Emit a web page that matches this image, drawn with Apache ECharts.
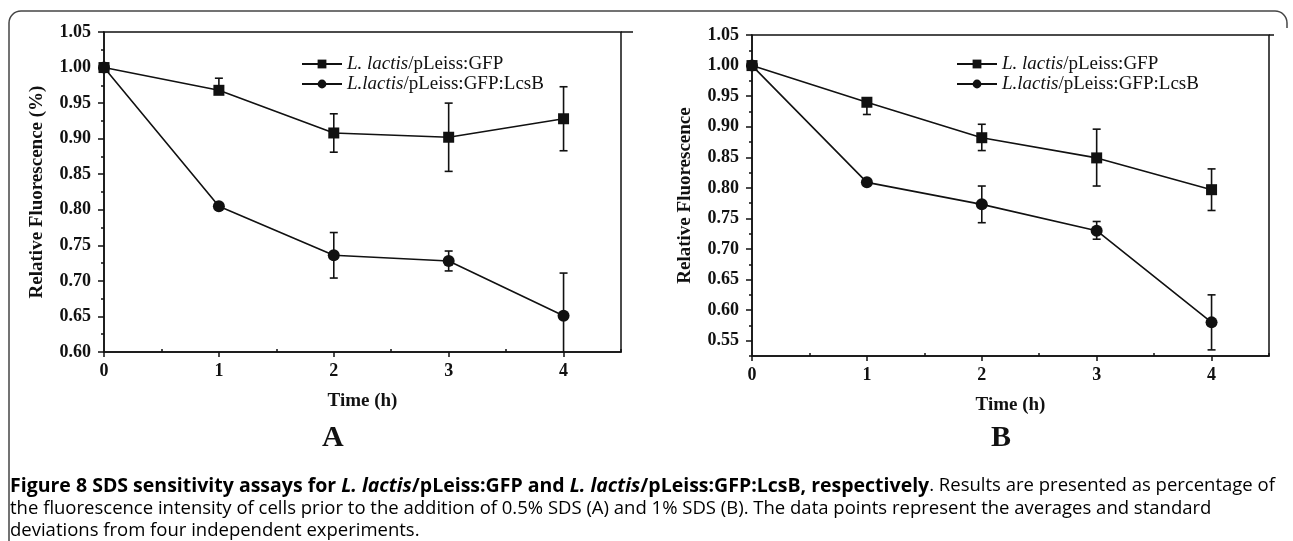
<!DOCTYPE html>
<html>
<head>
<meta charset="utf-8">
<script src="https://cdn.jsdelivr.net/npm/echarts@6/dist/echarts.min.js"></script>
<style>
  html, body { margin: 0; padding: 0; background: #fff; }
  #chart { width: 1293px; height: 541px; }
</style>
</head>
<body>
<div id="chart"></div>
<script>
// ---------- data ----------
const times = [0, 1, 2, 3, 4];
const xMajorTicks = [0, 1, 2, 3, 4];
const xMinorTicks = [0.5, 1.5, 2.5, 3.5, 4.5];

const nameGFP = 'L. lactis/pLeiss:GFP';
const nameLcsB = 'L.lactis/pLeiss:GFP:LcsB';

// Panel A (0.5% SDS)
const gfpA = [1.000, 0.968, 0.908, 0.902, 0.928];
const gfpAErrUp = [0, 0.017, 0.027, 0.048, 0.045];
const gfpAErrDown = [0, 0, 0.027, 0.048, 0.045];
const lcsA = [1.000, 0.805, 0.736, 0.728, 0.651];
const lcsAErrUp = [0, 0, 0.032, 0.014, 0.060];
const lcsAErrDown = [0, 0, 0.032, 0.014, 0.060];
const yTicksA = [0.60, 0.65, 0.70, 0.75, 0.80, 0.85, 0.90, 0.95, 1.00, 1.05];
const yMinorA = [0.625, 0.675, 0.725, 0.775, 0.825, 0.875, 0.925, 0.975, 1.025];

// Panel B (1% SDS)
const gfpB = [1.000, 0.940, 0.882, 0.849, 0.797];
const gfpBErrUp = [0, 0, 0.022, 0.047, 0.034];
const gfpBErrDown = [0, 0.020, 0.021, 0.046, 0.034];
const lcsB = [1.000, 0.809, 0.773, 0.730, 0.580];
const lcsBErrUp = [0, 0, 0.030, 0.015, 0.045];
const lcsBErrDown = [0, 0, 0.030, 0.014, 0.045];
const yTicksB = [0.55, 0.60, 0.65, 0.70, 0.75, 0.80, 0.85, 0.90, 0.95, 1.00, 1.05];
const yMinorB = [0.525, 0.575, 0.625, 0.675, 0.725, 0.775, 0.825, 0.875, 0.925, 0.975, 1.025];

// ---------- helpers ----------
const SERIF = '"Liberation Serif", "DejaVu Serif", serif';
const INK = '#111';

function pairs(ys) { return times.map((t, i) => [t, ys[i]]); }
function errData(ys, up, dn) { return times.map((t, i) => [t, ys[i], up[i], dn[i]]); }

function errorSeries(ys, up, dn, xi, yi) {
  return {
    type: 'custom', xAxisIndex: xi, yAxisIndex: yi, z: 1, clip: true,
    data: errData(ys, up, dn),
    renderItem: function (params, api) {
      const x = api.value(0), y = api.value(1), u = api.value(2), d = api.value(3);
      const children = [];
      const top = api.coord([x, y + u]);
      const bot = api.coord([x, y - d]);
      const cw = 4;
      const st = { stroke: INK, lineWidth: 1.6, fill: null };
      if (u + d > 0) {
        children.push({ type: 'line', shape: { x1: top[0], y1: top[1], x2: bot[0], y2: bot[1] }, style: st });
      }
      if (u > 0) children.push({ type: 'line', shape: { x1: top[0] - cw, y1: top[1], x2: top[0] + cw, y2: top[1] }, style: st });
      if (d > 0) children.push({ type: 'line', shape: { x1: bot[0] - cw, y1: bot[1], x2: bot[0] + cw, y2: bot[1] }, style: st });
      return { type: 'group', children: children };
    }
  };
}

function lineSeries(name, ys, symbol, xi, yi) {
  return {
    name: name, type: 'line', xAxisIndex: xi, yAxisIndex: yi, z: 3,
    data: pairs(ys), symbol: symbol, symbolSize: symbol === 'rect' ? 11 : 12,
    lineStyle: { color: INK, width: 1.6 }, itemStyle: { color: INK },
    emphasis: { disabled: true }, animation: false
  };
}

const tickLabelStyle = { fontFamily: SERIF, fontWeight: 'bold', fontSize: 18, color: INK };
const axisLineStyle = { lineStyle: { color: INK, width: 1.5 } };
const titleStyle = { fontFamily: SERIF, fontWeight: 'bold', fontSize: 19, color: INK };

function xAxesFor(gi) {
  return [
    { type: 'value', gridIndex: gi, min: 0, max: 4.5, position: 'bottom',
      name: 'Time (h)', nameLocation: 'middle', nameGap: 40,
      nameTextStyle: titleStyle,
      axisLine: { show: true, onZero: false, ...axisLineStyle },
      axisTick: { show: true, inside: false, length: 5, customValues: xMajorTicks, lineStyle: { color: INK, width: 1.5 } },
      axisLabel: { show: true, customValues: xMajorTicks, margin: 10, ...tickLabelStyle, formatter: v => String(v) },
      splitLine: { show: false } },
    { type: 'value', gridIndex: gi, min: 0, max: 4.5, position: 'bottom',
      axisLine: { show: false },
      axisTick: { show: true, inside: true, length: 3, customValues: xMinorTicks, lineStyle: { color: INK, width: 1.5 } },
      axisLabel: { show: false }, splitLine: { show: false } }
  ];
}

function yAxesFor(gi, min, major, minor, title) {
  return [
    { type: 'value', gridIndex: gi, min: min, max: 1.05, position: 'left',
      name: title, nameLocation: 'middle', nameGap: 57, nameRotate: 90,
      nameTextStyle: titleStyle,
      axisLine: { show: true, onZero: false, ...axisLineStyle },
      axisTick: { show: true, inside: false, length: 6, customValues: major, lineStyle: { color: INK, width: 1.5 } },
      axisLabel: { show: true, customValues: major, margin: 13, ...tickLabelStyle, formatter: v => Number(v).toFixed(2) },
      splitLine: { show: false } },
    { type: 'value', gridIndex: gi, min: min, max: 1.05, position: 'left',
      axisLine: { show: false },
      axisTick: { show: true, inside: false, length: 3, customValues: minor, lineStyle: { color: INK, width: 1.5 } },
      axisLabel: { show: false }, splitLine: { show: false } }
  ];
}

function legendFor(left) {
  return {
    data: [nameGFP, nameLcsB], orient: 'vertical', left: left, top: 49,
    itemWidth: 40, itemHeight: 11, itemGap: 0, selectedMode: false,
    textStyle: { fontFamily: SERIF, fontSize: 19, lineHeight: 20, color: INK,
      rich: { i: { fontFamily: SERIF, fontSize: 19, lineHeight: 20, fontStyle: 'italic', color: INK } } },
    formatter: function (n) {
      const k = n.indexOf('/');
      return '{i|' + n.slice(0, k) + '}' + n.slice(k);
    }
  };
}

const chart = echarts.init(document.getElementById('chart'), null, { renderer: 'canvas' });

const CAP_FONT = '"Open Sans", "Noto Sans", sans-serif';
const captionRich = {
  b: { fontFamily: CAP_FONT, fontWeight: 'bold', fontSize: 19.5, color: '#111' },
  bi: { fontFamily: CAP_FONT, fontWeight: 'bold', fontStyle: 'italic', fontSize: 19.5, color: '#111' },
  n: { fontFamily: CAP_FONT, fontSize: 18.5, color: '#333' }
};
const frameStyle = { fill: null, stroke: '#444', lineWidth: 1.5 };
const spineStyle = { fill: null, stroke: INK, lineWidth: 1.5 };

chart.setOption({
  animation: false,
  backgroundColor: '#fff',
  grid: [
    { left: 104, right: 672, top: 32, bottom: 189, show: true, borderColor: INK, borderWidth: 1.5 },
    { left: 752, right: 24, top: 35, bottom: 185, show: true, borderColor: INK, borderWidth: 1.5 }
  ],
  legend: [legendFor(296), legendFor(951)],
  xAxis: [...xAxesFor(0), ...xAxesFor(1)],
  yAxis: [
    ...yAxesFor(0, 0.60, yTicksA, yMinorA, 'Relative Fluorescence (%)'),
    ...yAxesFor(1, 0.525, yTicksB, yMinorB, 'Relative Fluorescence')
  ],
  series: [
    errorSeries(gfpA, gfpAErrUp, gfpAErrDown, 0, 0),
    errorSeries(lcsA, lcsAErrUp, lcsAErrDown, 0, 0),
    lineSeries(nameGFP, gfpA, 'rect', 0, 0),
    lineSeries(nameLcsB, lcsA, 'circle', 0, 0),
    errorSeries(gfpB, gfpBErrUp, gfpBErrDown, 2, 2),
    errorSeries(lcsB, lcsBErrUp, lcsBErrDown, 2, 2),
    lineSeries(nameGFP, gfpB, 'rect', 2, 2),
    lineSeries(nameLcsB, lcsB, 'circle', 2, 2)
  ],
  graphic: [
    { type: 'polyline', silent: true, shape: { points: [[9, 541], [9, 23]] }, style: frameStyle },
    { type: 'arc', silent: true, shape: { cx: 21, cy: 23, r: 12, startAngle: Math.PI, endAngle: Math.PI * 1.5 }, style: frameStyle },
    { type: 'polyline', silent: true, shape: { points: [[21, 11], [1275, 11]] }, style: frameStyle },
    { type: 'arc', silent: true, shape: { cx: 1275, cy: 23, r: 12, startAngle: Math.PI * 1.5, endAngle: Math.PI * 2 }, style: frameStyle },
    { type: 'polyline', silent: true, shape: { points: [[1287, 23], [1287, 28]] }, style: frameStyle },
    { type: 'polyline', silent: true, shape: { points: [[621, 32], [633, 32]] }, style: spineStyle },
    { type: 'polyline', silent: true, shape: { points: [[1269, 35], [1274, 35]] }, style: spineStyle },
    { type: 'text', left: 322, top: 423, silent: true,
      style: { text: 'A', fontFamily: SERIF, fontWeight: 'bold', fontSize: 30, fill: INK } },
    { type: 'text', left: 991, top: 423, silent: true,
      style: { text: 'B', fontFamily: SERIF, fontWeight: 'bold', fontSize: 30, fill: INK } },
    { type: 'text', left: 10, top: 476, silent: true,
      style: {
        text: '{b|Figure 8 SDS sensitivity assays for }{bi|L. lactis}{b|/pLeiss:GFP and }{bi|L. lactis}{b|/pLeiss:GFP:LcsB, respectively}{n|. Results are presented as percentage of}',
        rich: captionRich } },
    { type: 'text', left: 10, top: 499, silent: true,
      style: { text: '{n|the fluorescence intensity of cells prior to the addition of 0.5% SDS (A) and 1% SDS (B). The data points represent the averages and standard}', rich: captionRich } },
    { type: 'text', left: 10, top: 521, silent: true,
      style: { text: '{n|deviations from four independent experiments.}', rich: captionRich } }
  ]
});
</script>
</body>
</html>
